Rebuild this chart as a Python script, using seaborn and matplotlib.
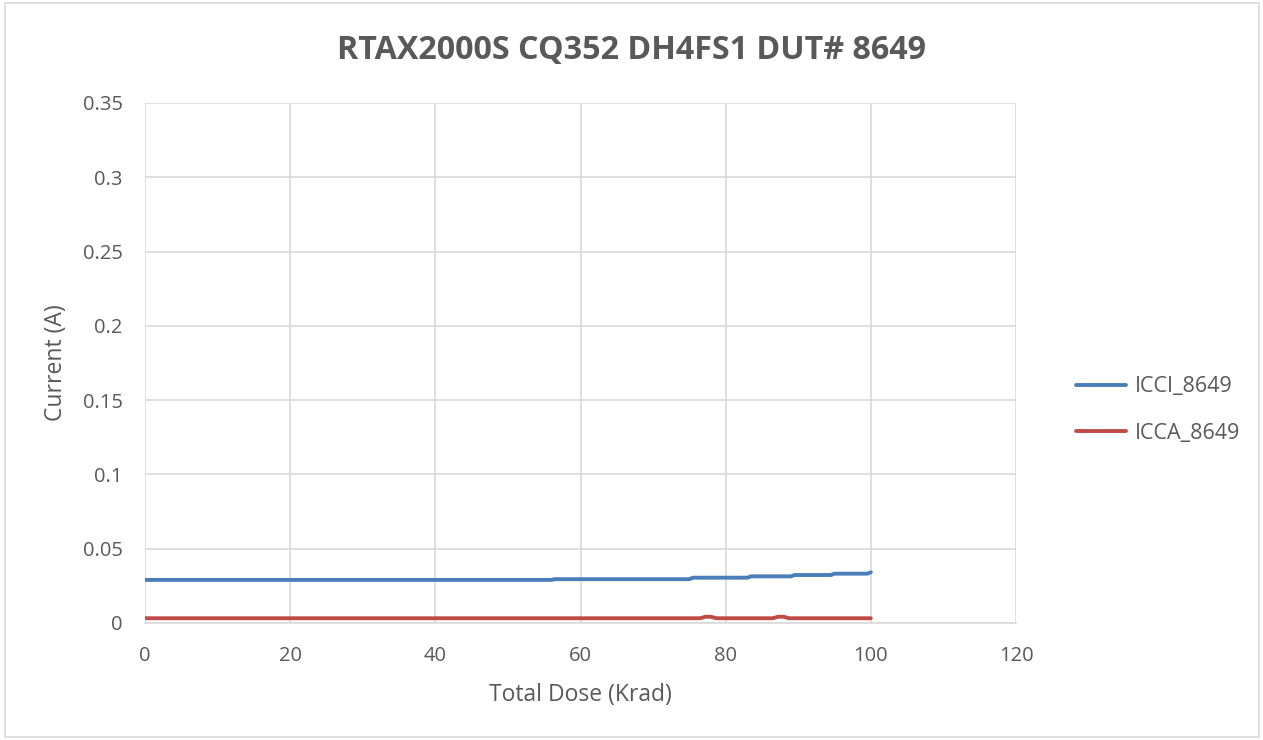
import matplotlib
matplotlib.use("Agg")
import matplotlib.pyplot as plt
import seaborn as sns
import pandas as pd

# Data
dose_icci = [0, 56, 56.5, 75, 75.5, 83, 83.5, 89, 89.5, 94.5, 95, 99.5, 100]
icci = [0.029, 0.029, 0.0295, 0.0295, 0.0305, 0.0305, 0.0314, 0.0314, 0.0323, 0.0323, 0.0332, 0.0332, 0.0341]
dose_icca = [0, 76.5, 77.2, 78, 78.7, 86.5, 87.2, 88, 88.7, 100]
icca = [0.0032, 0.0032, 0.0042, 0.0042, 0.0032, 0.0032, 0.0042, 0.0042, 0.0032, 0.0032]
series_names = ["ICCI_8649", "ICCA_8649"]
colors = ["#4a7ebb", "#be4b48"]
x_ticks = [0, 20, 40, 60, 80, 100, 120]
y_ticks = [0, 0.05, 0.1, 0.15, 0.2, 0.25, 0.3, 0.35]
y_tick_labels = ["0", "0.05", "0.1", "0.15", "0.2", "0.25", "0.3", "0.35"]

df = pd.concat([
    pd.DataFrame({"dose": dose_icci, "current": icci, "series": series_names[0]}),
    pd.DataFrame({"dose": dose_icca, "current": icca, "series": series_names[1]}),
])

sns.set_theme(style="white")
plt.rcParams["font.family"] = ["Open Sans", "DejaVu Sans"]

W, H = 1263, 740
fig = plt.figure(figsize=(W / 100, H / 100), dpi=100)
ax = fig.add_axes([145 / W, 1 - 623 / H, (1016 - 145) / W, (623 - 103) / H])

sns.lineplot(data=df, x="dose", y="current", hue="series", palette=colors,
             linewidth=2.8, ax=ax, sort=False, estimator=None)

ax.set_xlim(0, 120)
ax.set_ylim(0, 0.35)
ax.set_xticks(x_ticks)
ax.set_yticks(y_ticks)
ax.set_yticklabels(y_tick_labels)
ax.grid(True, color="#d9d9d9", linewidth=1.2)
ax.set_axisbelow(True)
for side in ["top", "right", "left"]:
    ax.spines[side].set_visible(False)
ax.spines["bottom"].set_color("#d9d9d9")
ax.spines["bottom"].set_linewidth(1.2)
ax.tick_params(axis="both", length=0, labelsize=14.5, labelcolor="#595959")
ax.tick_params(axis="x", pad=16.5)
ax.tick_params(axis="y", pad=16)

ax.set_xlabel("Total Dose (Krad)", fontsize=16.5, color="#595959")
ax.set_ylabel("Current (A)", fontsize=16.5, color="#595959")
ax.xaxis.set_label_coords(0.5, (623 - 683) / 520)
ax.yaxis.set_label_coords((68 - 145) / 871, 0.5)
fig.text(0.5, 1 - 50 / H, "RTAX2000S CQ352 DH4FS1 DUT# 8649", ha="center", va="center",
         fontsize=23.2, fontweight="bold", color="#595959")

leg = ax.legend(loc="center left", bbox_to_anchor=(1057 / W, 1 - 410 / H),
                bbox_transform=fig.transFigure, frameon=False,
                fontsize=15.5, handlelength=2.3, handletextpad=0.4,
                labelspacing=1.2, title=None)
for t in leg.get_texts():
    t.set_color("#595959")

# outer chart border
fig.patches.append(plt.Rectangle((5 / W, 3 / H), 1254 / W, 734 / H, transform=fig.transFigure,
                                 fill=False, edgecolor="#d9d9d9", linewidth=1.2))

fig.savefig("out.png", dpi=100)
